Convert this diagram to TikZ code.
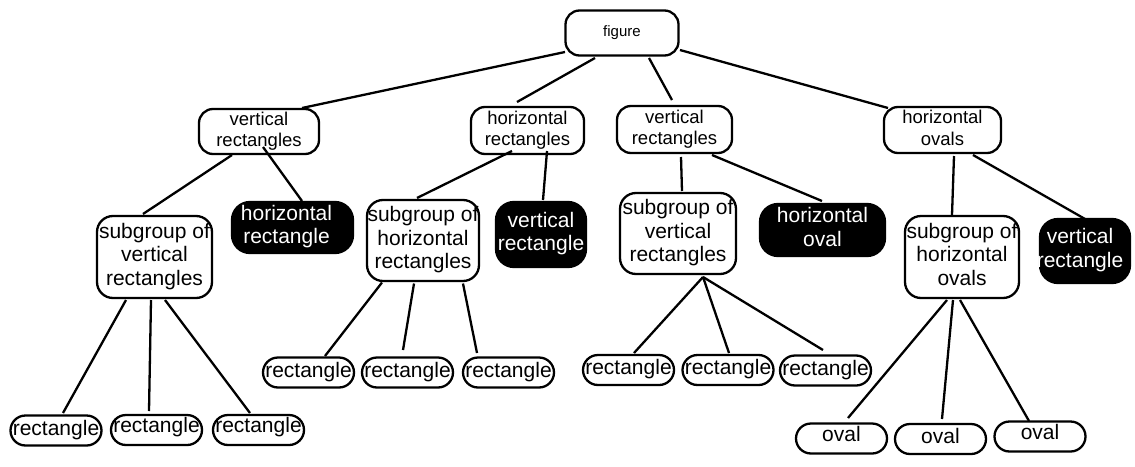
\documentclass[tikz,border=0pt]{standalone}
\usepackage{fontspec}
\setmainfont{Liberation Sans}
\usetikzlibrary{calc}
\newcommand{\TL}[1]{\makebox[0pt]{\begin{tabular}{@{}c@{}}#1\end{tabular}}}
\tikzset{
  sz/.style 2 args={minimum width=#1pt, minimum height=#2pt},
  base/.style={draw, line width=2.3pt, inner sep=0pt, outer sep=0pt},
  topbox/.style={base, rounded corners=14pt, font=\fontsize{15}{17}\selectfont},
  lvbox/.style={base, rounded corners=14pt, font=\fontsize{18.5}{21.5}\selectfont},
  subbox/.style={base, rounded corners=16pt, font=\fontsize{21}{23.5}\selectfont},
  blackbox/.style={base, fill=black, text=white, rounded corners=18pt, font=\fontsize{21}{23.5}\selectfont},
  pill/.style={base, rounded corners=15pt, sz={91}{30}, font=\fontsize{21}{23.5}\selectfont},
  link/.style={line width=2.3pt}
}
\begin{document}
\begin{tikzpicture}[x=1pt,y=-1pt]
\useasboundingbox (0,0) rectangle (1135,466);
% level 0
\node[topbox, sz={113}{45}] (fig) at (622,33) {\TL{figure}};
% level 1
\node[lvbox, sz={120}{45}] (vr1) at (259,131.5) {\TL{vertical\\rectangles}};
\node[lvbox, sz={113}{47}] (hr) at (527.5,130.5) {\TL{horizontal\\rectangles}};
\node[lvbox, sz={115}{47}] (vr2) at (674.5,129.5) {\TL{vertical\\rectangles}};
\node[lvbox, sz={117}{46}] (ho) at (942.5,130) {\TL{horizontal\\ovals}};
% level 2
\node[subbox, sz={115}{82}] (sub1) at (154.5,257) {\TL{subgroup of\\vertical\\rectangles}};
\node[blackbox, sz={121}{51}] (hrb1) at (292.5,227.5) {\TL{\hspace*{-12pt}horizontal\\\hspace*{-12pt}rectangle}};
\node[subbox, sz={112}{81}] (sub2) at (423,240.5) {\TL{subgroup of\\horizontal\\rectangles}};
\node[blackbox, sz={90}{65}] (vrb1) at (541,234.5) {\TL{vertical\\rectangle}};
\node[subbox, sz={116}{81}] (sub3) at (678,233.5) {\TL{subgroup of\\vertical\\rectangles}};
\node[blackbox, sz={125}{52}] (hob) at (822.5,230) {\TL{horizontal\\oval}};
\node[subbox, sz={114}{82}] (sub4) at (962,257) {\TL{subgroup of\\horizontal\\ovals}};
\node[blackbox, sz={90}{64}] (vrb2) at (1085,251) {\TL{\hspace*{-10pt}vertical\\\hspace*{-10pt}rectangle}};
% level 3
\node[pill] (r1) at (56,430.5) {\TL{rectangle}};
\node[pill] (r2) at (156.5,430) {\TL{\raisebox{3pt}{rectangle}}};
\node[pill] (r3) at (258.5,430) {\TL{\raisebox{3pt}{rectangle}}};
\node[pill] (r4) at (308.5,372.5) {\TL{rectangle}};
\node[pill] (r5) at (407.5,372.5) {\TL{rectangle}};
\node[pill] (r6) at (508.5,372.5) {\TL{rectangle}};
\node[pill] (r7) at (628.5,370) {\TL{rectangle}};
\node[pill] (r8) at (728,370) {\TL{rectangle}};
\node[pill] (r9) at (825.5,370.5) {\TL{rectangle}};
\node[pill] (o1) at (841.5,438.5) {\TL{\raisebox{3pt}{oval}}};
\node[pill] (o2) at (940.5,439) {\TL{oval}};
\node[pill] (o3) at (1040,436.5) {\TL{\raisebox{3pt}{oval}}};
% connectors
\draw[link] ($(fig)+(-57,19)$) -- ($(vr1)+(43,-23.5)$);
\draw[link] ($(fig)+(-27,25)$) -- ($(hr)+(-10.5,-28.5)$);
\draw[link] ($(fig)+(27,25)$) -- ($(vr2)+(-2.5,-29.5)$);
\draw[link] ($(fig)+(58,17)$) -- ($(ho)+(-54.5,-22)$);
\draw[link] ($(vr1)+(-27,23.5)$) -- ($(sub1)+(-11.5,-43)$);
\draw[link] ($(vr1)+(4,15.5)$) -- ($(hrb1)+(9.5,-26.5)$);
\draw[link] ($(hr)+(-15.5,20.5)$) -- ($(sub2)+(-6,-42.5)$);
\draw[link] ($(hr)+(19.5,20.5)$) -- ($(vrb1)+(2,-34.5)$);
\draw[link] ($(vr2)+(6.5,27.5)$) -- ($(sub3)+(4,-42.5)$);
\draw[link] ($(vr2)+(37.5,25.5)$) -- ($(hob)+(-0.5,-29)$);
\draw[link] ($(ho)+(11.5,26)$) -- ($(sub4)+(-10,-42)$);
\draw[link] ($(ho)+(30.5,25)$) -- ($(vrb2)+(0,-32)$);
\draw[link] ($(sub1)+(-28.5,43)$) -- ($(r1)+(7,-17.5)$);
\draw[link] ($(sub1)+(-3.5,43)$) -- ($(r2)+(-7.5,-19)$);
\draw[link] ($(sub1)+(10.5,43)$) -- ($(r3)+(-8.5,-17)$);
\draw[link] ($(sub2)+(-41,42)$) -- ($(r4)+(16.5,-16.5)$);
\draw[link] ($(sub2)+(-9,43)$) -- ($(r5)+(-4.5,-22.5)$);
\draw[link] ($(sub2)+(40,43)$) -- ($(r6)+(-31.5,-19.5)$);
\draw[link] ($(sub3)+(25,43.5)$) -- ($(r7)+(5.5,-17)$);
\draw[link] ($(sub3)+(25,43.5)$) -- ($(r8)+(1,-17)$);
\draw[link] ($(sub3)+(25,43.5)$) -- ($(r9)+(-2.5,-20.5)$);
\draw[link] ($(sub4)+(-15,43)$) -- ($(o1)+(6.5,-20.5)$);
\draw[link] ($(sub4)+(-9,43)$) -- ($(o2)+(1.5,-20)$);
\draw[link] ($(sub4)+(-2,43)$) -- ($(o3)+(-11,-15.5)$);
\end{tikzpicture}
\end{document}
